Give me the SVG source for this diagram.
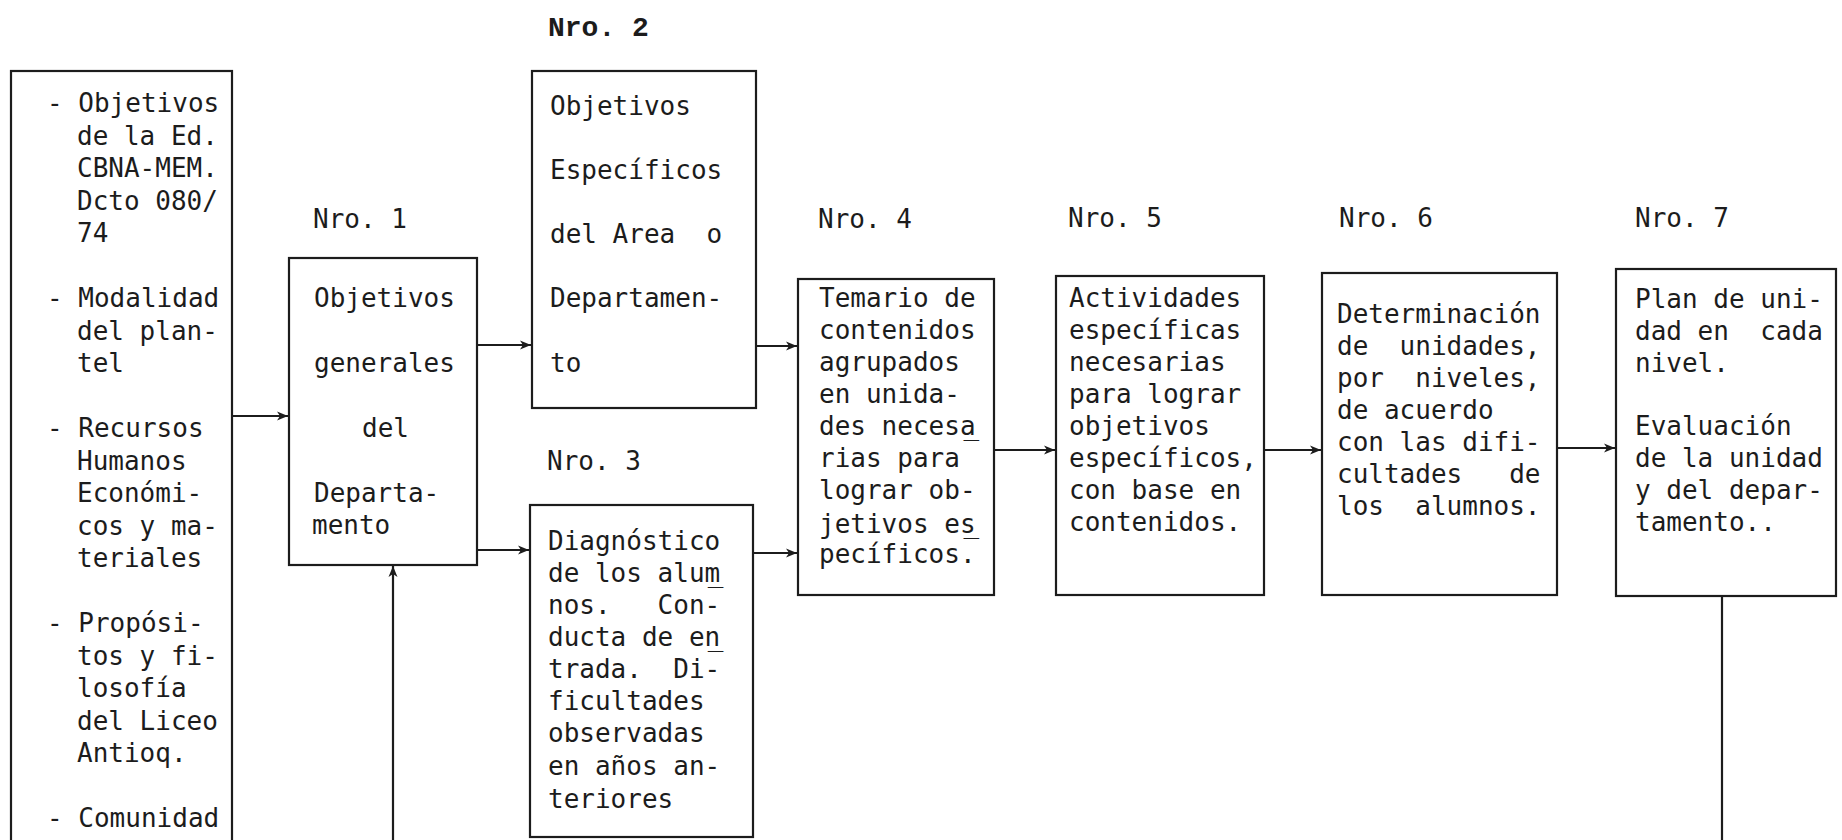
<svg xmlns="http://www.w3.org/2000/svg" width="1842" height="840" viewBox="0 0 1842 840">
<style>
  .box { fill: none; stroke: #1c1c1c; stroke-width: 2.2; }
  .t { font-family: "DejaVu Sans Mono", "Liberation Mono", monospace; font-size: 26px; fill: #1c1c1c; white-space: pre; }
  .lbl2 { font-family: "Liberation Mono", "DejaVu Sans Mono", monospace; font-size: 28px; font-weight: bold; fill: #1c1c1c; white-space: pre; }
  .edge { fill: none; stroke: #1c1c1c; stroke-width: 2.2; }
</style>
<defs>
  <marker id="arr" markerWidth="12" markerHeight="10" refX="11" refY="5" orient="auto" markerUnits="userSpaceOnUse">
    <path d="M0,0.5 L11,5 L0,9.5 L3,5 z" fill="#1c1c1c"/>
  </marker>
</defs>
<rect x="0" y="0" width="1842" height="840" fill="#ffffff"/>

<g id="node-fuentes">
  <rect class="box" x="11" y="71" width="221" height="790"/>
  <text class="t" xml:space="preserve">
    <tspan x="47" y="112">- Objetivos</tspan>
    <tspan x="77" y="144.5">de la Ed.</tspan>
    <tspan x="77" y="177">CBNA-MEM.</tspan>
    <tspan x="77" y="209.5">Dcto 080/</tspan>
    <tspan x="77" y="242">74</tspan>
    <tspan x="47" y="307">- Modalidad</tspan>
    <tspan x="77" y="339.5">del plan-</tspan>
    <tspan x="77" y="372">tel</tspan>
    <tspan x="47" y="437">- Recursos</tspan>
    <tspan x="77" y="469.5">Humanos</tspan>
    <tspan x="77" y="502">Económi-</tspan>
    <tspan x="77" y="534.5">cos y ma-</tspan>
    <tspan x="77" y="567">teriales</tspan>
    <tspan x="47" y="632">- Propósi-</tspan>
    <tspan x="77" y="664.5">tos y fi-</tspan>
    <tspan x="77" y="697">losofía</tspan>
    <tspan x="77" y="729.5">del Liceo</tspan>
    <tspan x="77" y="762">Antioq.</tspan>
    <tspan x="47" y="827">- Comunidad</tspan>
  </text>
</g>

<g id="node-1">
  <text class="t" x="313" y="228">Nro. 1</text>
  <rect class="box" x="289" y="258" width="188" height="307"/>
  <text class="t" xml:space="preserve">
    <tspan x="314" y="307">Objetivos</tspan>
    <tspan x="314" y="372">generales</tspan>
    <tspan x="362" y="437">del</tspan>
    <tspan x="314" y="502">Departa-</tspan>
    <tspan x="312" y="534">mento</tspan>
  </text>
</g>

<g id="node-2">
  <text class="lbl2" x="548" y="36" xml:space="preserve">Nro. 2</text>
  <rect class="box" x="532" y="71" width="224" height="337"/>
  <text class="t" xml:space="preserve">
    <tspan x="550" y="115">Objetivos</tspan>
    <tspan x="550" y="179">Específicos</tspan>
    <tspan x="550" y="243">del Area  o</tspan>
    <tspan x="550" y="307">Departamen-</tspan>
    <tspan x="550" y="372">to</tspan>
  </text>
</g>

<g id="node-3">
  <text class="t" x="547" y="470">Nro. 3</text>
  <rect class="box" x="530" y="505" width="223" height="332"/>
  <text class="t" xml:space="preserve">
    <tspan x="548" y="550">Diagnóstico</tspan>
    <tspan x="548" y="582">de los alum</tspan><tspan dx="-12.5">_</tspan>
    <tspan x="548" y="614">nos.   Con-</tspan>
    <tspan x="548" y="646">ducta de en</tspan><tspan dx="-12.5">_</tspan>
    <tspan x="548" y="678">trada.  Di-</tspan>
    <tspan x="548" y="710">ficultades</tspan>
    <tspan x="548" y="742">observadas</tspan>
    <tspan x="548" y="775">en años an-</tspan>
    <tspan x="548" y="808">teriores</tspan>
  </text>
</g>

<g id="node-4">
  <text class="t" x="818" y="228">Nro. 4</text>
  <rect class="box" x="798" y="279" width="196" height="316"/>
  <text class="t" xml:space="preserve">
    <tspan x="819" y="307">Temario de</tspan>
    <tspan x="819" y="339">contenidos</tspan>
    <tspan x="819" y="371">agrupados</tspan>
    <tspan x="819" y="403">en unida-</tspan>
    <tspan x="819" y="435">des necesa</tspan><tspan dx="-12">_</tspan>
    <tspan x="819" y="467">rias para</tspan>
    <tspan x="819" y="499">lograr ob-</tspan>
    <tspan x="819" y="533">jetivos es</tspan><tspan dx="-12">_</tspan>
    <tspan x="819" y="563">pecíficos.</tspan>
  </text>
</g>

<g id="node-5">
  <text class="t" x="1068" y="227">Nro. 5</text>
  <rect class="box" x="1056" y="276" width="208" height="319"/>
  <text class="t" xml:space="preserve">
    <tspan x="1069" y="307">Actividades</tspan>
    <tspan x="1069" y="339">específicas</tspan>
    <tspan x="1069" y="371">necesarias</tspan>
    <tspan x="1069" y="403">para lograr</tspan>
    <tspan x="1069" y="435">objetivos</tspan>
    <tspan x="1069" y="467">específicos,</tspan>
    <tspan x="1069" y="499">con base en</tspan>
    <tspan x="1069" y="531">contenidos.</tspan>
  </text>
</g>

<g id="node-6">
  <text class="t" x="1339" y="227">Nro. 6</text>
  <rect class="box" x="1322" y="273" width="235" height="322"/>
  <text class="t" xml:space="preserve">
    <tspan x="1337" y="323">Determinación</tspan>
    <tspan x="1337" y="355">de  unidades,</tspan>
    <tspan x="1337" y="387">por  niveles,</tspan>
    <tspan x="1337" y="419">de acuerdo</tspan>
    <tspan x="1337" y="451">con las difi-</tspan>
    <tspan x="1337" y="483">cultades   de</tspan>
    <tspan x="1337" y="515">los  alumnos.</tspan>
  </text>
</g>

<g id="node-7">
  <text class="t" x="1635" y="227">Nro. 7</text>
  <rect class="box" x="1616" y="269" width="220" height="327"/>
  <text class="t" xml:space="preserve">
    <tspan x="1635" y="308">Plan de uni-</tspan>
    <tspan x="1635" y="340">dad en  cada</tspan>
    <tspan x="1635" y="372">nivel.</tspan>
    <tspan x="1635" y="435">Evaluación</tspan>
    <tspan x="1635" y="467">de la unidad</tspan>
    <tspan x="1635" y="499">y del depar-</tspan>
    <tspan x="1635" y="531">tamento..</tspan>
  </text>
</g>

<g id="connectors">
  <line class="edge" x1="232" y1="416" x2="288" y2="416" marker-end="url(#arr)"/>
  <line class="edge" x1="477" y1="345" x2="531" y2="345" marker-end="url(#arr)"/>
  <line class="edge" x1="477" y1="550" x2="529" y2="550" marker-end="url(#arr)"/>
  <line class="edge" x1="393" y1="842" x2="393" y2="566" marker-end="url(#arr)"/>
  <line class="edge" x1="756" y1="346" x2="797" y2="346" marker-end="url(#arr)"/>
  <line class="edge" x1="753" y1="553" x2="797" y2="553" marker-end="url(#arr)"/>
  <line class="edge" x1="994" y1="450" x2="1055" y2="450" marker-end="url(#arr)"/>
  <line class="edge" x1="1264" y1="450" x2="1321" y2="450" marker-end="url(#arr)"/>
  <line class="edge" x1="1557" y1="448" x2="1615" y2="448" marker-end="url(#arr)"/>
  <line class="edge" x1="1722" y1="596" x2="1722" y2="842"/>
</g>
</svg>
